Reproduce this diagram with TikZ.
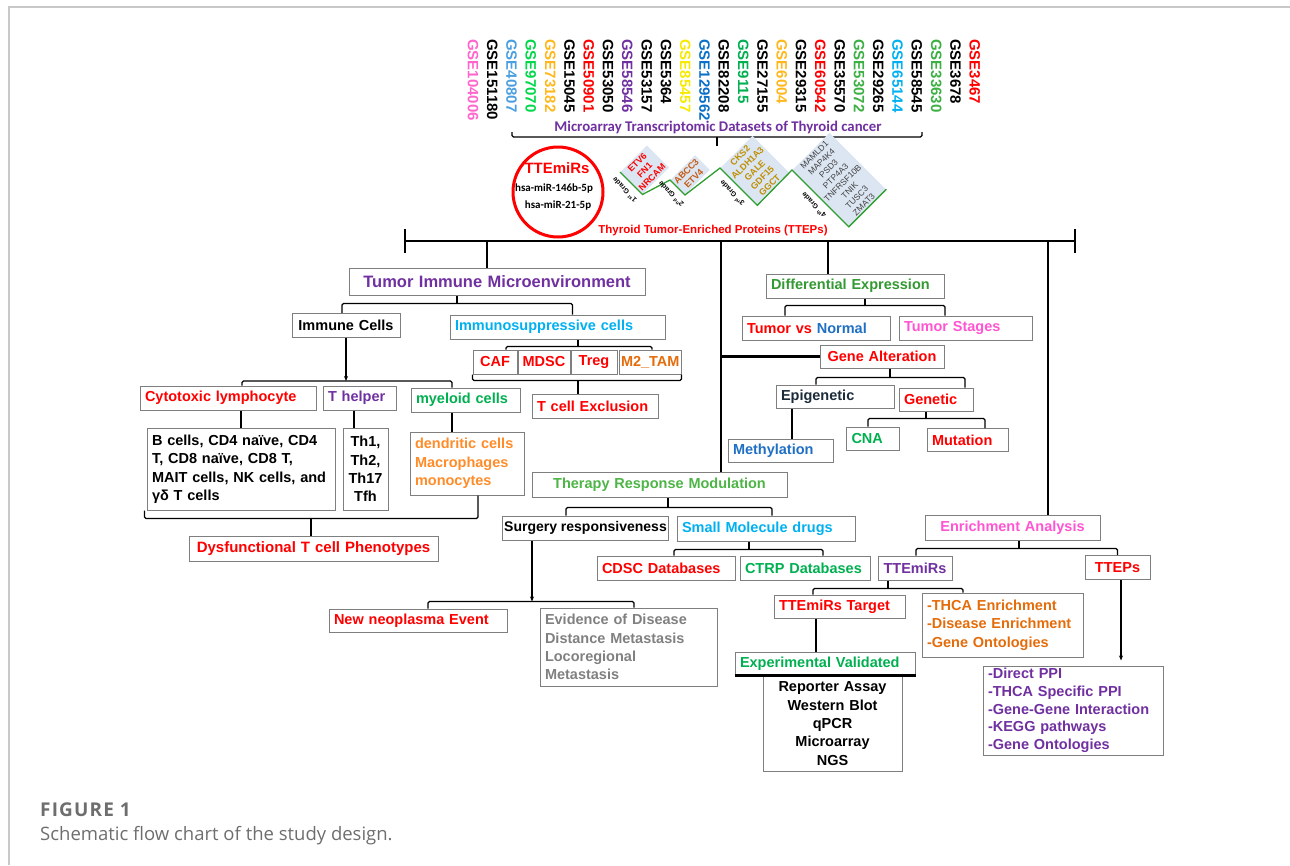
\documentclass[tikz,border=0pt]{standalone}
\usepackage{fontspec}
\setmainfont{Liberation Sans}
\newfontfamily\calibri{Carlito}
\newfontfamily\legende{Open Sans}
\newfontfamily\legendeesp[LetterSpace=6]{Open Sans}
\usetikzlibrary{calc,positioning,arrows.meta}
\definecolor{BordGris}{HTML}{7F7F7F}
\definecolor{CadreGris}{HTML}{C8C8C8}
\definecolor{LegGris}{HTML}{6E6E6E}
\definecolor{TViolet}{HTML}{7030A0}
\definecolor{TCyan}{HTML}{00B0F0}
\definecolor{TRouge}{HTML}{FF0000}
\definecolor{TOrangeFonce}{HTML}{E46C0A}
\definecolor{TOrange}{HTML}{FF8C28}
\definecolor{TVert}{HTML}{00B050}
\definecolor{TVertFonce}{HTML}{339933}
\definecolor{TVertTh}{HTML}{4DB446}
\definecolor{TBleu}{HTML}{1F6FC4}
\definecolor{TRose}{HTML}{FF55D2}
\definecolor{TGris}{HTML}{808080}
\definecolor{TNuit}{HTML}{1C2B3A}
\definecolor{GRose}{HTML}{FF66CC}
\definecolor{GBleu}{HTML}{4A9FE0}
\definecolor{GVertClair}{HTML}{00D84A}
\definecolor{GOr}{HTML}{FFB81C}
\definecolor{GJaune}{HTML}{F5EA00}
\definecolor{GBleuFonce}{HTML}{0A70C8}
\definecolor{GVertMoyen}{HTML}{3CB043}
\definecolor{GradeFond}{HTML}{DCE6F2}
\definecolor{GradeVert}{HTML}{2E9E2E}
\definecolor{GradeA}{HTML}{FF0000}
\definecolor{GradeB}{HTML}{C55A11}
\definecolor{GradeC}{HTML}{BF8F00}
\definecolor{GradeD}{HTML}{404040}
\newcommand{\fs}[2]{\fontsize{#1}{#2}\selectfont}
\tikzset{
	bx/.style={draw=BordGris, line width=1pt, inner xsep=5pt, inner ysep=2pt, minimum height=24pt, font=\fs{14.5}{18.3}\bfseries, align=left},
	bw/.style={text width=#1},
	thk/.style={line width=2.6pt},
	brk/.style={line width=1.1pt, rounded corners=1.5pt},
	gse/.style={rotate=-90, anchor=west, font=\fs{15}{16}\bfseries, inner sep=0pt},
	gradebx/.style={fill=GradeFond, rotate=45, anchor=north west, align=center, inner sep=2pt, font=\fs{9}{10.5}\bfseries},
	gradelab/.style={rotate=135, font=\fs{7}{8}\bfseries, inner sep=0pt}
}
\begin{document}
\begin{tikzpicture}[x=1pt,y=-1pt]
    \useasboundingbox (0,0) rectangle (1290,865);
    % cadre
    \draw[CadreGris, line width=1.2pt] (9,865) -- (9,7) -- (1290,7);

    % jeux de donnees
    \foreach \num/\col [count=\i from 0] in {104006/GRose, 151180/black, 40807/GBleu, 97070/GVertClair, 73182/GOr, 15045/black, 50901/TRouge, 53050/black, 58546/TViolet, 53157/black, 5364/black, 85457/GJaune, 129562/GBleuFonce, 82208/black, 9115/TVert, 27155/black, 6004/GOr, 29315/black, 60542/TRouge, 35570/black, 53072/GVertMoyen, 29265/black, 65144/TCyan, 58545/black, 33630/GVertMoyen, 3678/black, 3467/TRouge} {
        \node[gse, text=\col] (gse\i) at ({473+19.3*\i},39) {GSE\num};
    }
    \node[font=\calibri\fs{14.8}{16}\bfseries, text=TViolet] (microarray) at (718,127) {Microarray Transcriptomic Datasets of Thyroid cancer};
    \coordinate (accG) at (512,137);
    \coordinate (accD) at (922,137);
    \coordinate (accM) at (717,137);
    \draw[brk] ([yshift=5pt]accG) -- (accG) -- (accD) -- ([yshift=5pt]accD);
    \draw[brk] (accM) -- ++(0,9);

    % TTEmiRs
    \node[circle, draw=TRouge, line width=3pt, minimum size=90pt, inner sep=0pt] (cercle) at (558,192) {};
    \node[text=TRouge, font=\fs{15}{16}\bfseries] (miRtitre) at (557,168) {TTEmiRs};
    \node[font=\calibri\fs{11}{12}\bfseries] (miR146) at (554,189) {hsa-miR-146b-5p};
    \node[font=\calibri\fs{11}{12}\bfseries] (miR21) at (558,206) {hsa-miR-21-5p};

    % grades des TTEPs
    \node[gradebx, text=GradeA] (g1) at (620,172) {ETV6\\FN1\\NRCAM};
    \node[gradebx, text=GradeB] (g2) at (670,180) {ABCC3\\ETV4};
    \node[gradebx, text=GradeC] (g3) at (720,168) {CKS2\\ALDH1A3\\GALE\\GDF15\\GGCT};
    \node[gradebx, text=GradeD, font=\fs{8.5}{10}\mdseries] (g4) at (792,170) {MAMLD1\\MAP4K4\\PSD3\\PTP4A3\\TNFRSF10B\\TNIK\\TUSC3\\ZMAT3};
    \draw[GradeVert, line width=1.3pt] (g1.north west) -- (g1.south west) -- (g2.north west) -- (g2.south west) -- (g3.north west) -- (g3.south west) -- (g4.north west) -- (g4.south west) -- (g4.south east);
    \foreach \n/\s in {1/st,2/nd,3/rd,4/th} {
        \node[gradelab] (lab\n) at ($(g\n.west)+(-7,7)$) {\n\textsuperscript{\s} Grade};
    }
    \node[text=TRouge, font=\fs{11.5}{13}\bfseries] (ttepstitre) at (713,231) {Thyroid Tumor-Enriched Proteins (TTEPs)};

    % barre principale
    \coordinate (barG) at (405,241);
    \coordinate (barD) at (1075,241);
    \draw[thk] (barG) -- (barD);
    \draw[thk] ([yshift=12pt]barG) -- ([yshift=-12pt]barG);
    \draw[thk] ([yshift=12pt]barD) -- ([yshift=-12pt]barD);

    % microenvironnement immunitaire
    \node[bx, bw=286, align=center, text=TViolet, font=\fs{16.5}{19}\bfseries, minimum height=27pt] (tim) at (497,281.5) {Tumor Immune Microenvironment};
    \node[bx, bw=98, align=center] (immc) at (346,325.5) {Immune Cells};
    \node[bx, bw=205, text=TCyan] (imsup) at (557.5,327) {Immunosuppressive cells};
    \node[bx, inner xsep=3pt, bw=38, align=center, text=TRouge] (caf) at (495,362) {CAF};
    \node[bx, inner xsep=3pt, bw=46, align=center, text=TRouge] (mdsc) at (544,362) {MDSC};
    \node[bx, inner xsep=3pt, bw=40, align=center, text=TRouge] (treg) at (594,362) {Treg};
    \node[bx, inner xsep=2pt, bw=58, align=center, text=TOrangeFonce] (m2) at (650,362) {M2\_TAM};
    \node[bx, bw=116, text=TRouge] (tcex) at (595,406) {T cell Exclusion};
    \node[bx, bw=166, text=TRouge] (cyto) at (228,398) {Cytotoxic lymphocyte};
    \node[bx, bw=63, text=TViolet] (thelp) at (359.5,398) {T helper};
    \node[bx, bw=99, text=TVert] (myel) at (465.5,400) {myeloid cells};
    \node[bx, bw=178, minimum height=82pt, font=\fs{14.5}{18.5}\bfseries] (bcell) at (241,469) {B cells, CD4 naïve, CD4\\T, CD8 naïve, CD8 T,\\MAIT cells, NK cells, and\\γδ T cells};
    \node[bx, bw=37, inner xsep=4pt, align=center, minimum height=82pt] (th) at (365.5,469) {Th1,\\Th2,\\Th17\\Tfh};
    \node[bx, bw=104, minimum height=63pt, text=TOrange] (dend) at (467,463.5) {dendritic cells\\Macrophages\\monocytes};
    \node[bx, bw=239, align=center, text=TRouge, font=\fs{15}{18}\bfseries, minimum height=25pt] (dys) at (313.5,548.5) {Dysfunctional T cell Phenotypes};

    \coordinate (vTIM) at (487,241);
    \draw[thk] (vTIM) -- (vTIM |- tim.north);
    \coordinate (aTIM) at ($(tim.south)+(-40,8)$);
    \draw[brk] (tim.south -| aTIM) -- (aTIM);
    \draw[brk] ([xshift=-4pt]immc.north) |- (aTIM) -| ([xshift=15pt]imsup.north);
    \coordinate (aSup) at ($(imsup.south)+(20.5,7)$);
    \draw[brk] (imsup.south -| aSup) -- (aSup);
    \draw[brk] ([xshift=11pt]caf.north) |- (aSup) -| ([xshift=2pt]m2.north);
    \coordinate (aExc) at ($(tcex.north)+(-17,-13)$);
    \draw[brk] (caf.south west) |- (aExc) -| (m2.south east);
    \draw[brk] (aExc) -- (aExc |- tcex.north);
    \coordinate (aImm) at ($(immc.south)+(0,43)$);
    \draw[brk, -{Stealth[length=5pt,width=4pt]}] (immc.south) -- (aImm);
    \draw[brk] ([xshift=14pt]cyto.north) |- (aImm) -| ([xshift=-13.5pt]myel.north);
    \draw[thk] (bcell.north) -- (bcell.north |- cyto.south);
    \coordinate (vTh) at ($(thelp.south)+(-5.5,0)$);
    \draw[thk] (vTh) -- (vTh |- th.north);
    \coordinate (vMye) at ($(myel.south)+(-13.5,0)$);
    \draw[thk] (vMye) -- (vMye |- dend.north);
    \coordinate (aDys) at ($(dys.north)+(-2.5,-17)$);
    \draw[brk] ([xshift=-2pt]bcell.south west) |- (aDys) -| ([xshift=11pt]dend.south);
    \draw[brk] (aDys) -- (aDys |- dys.north);

    % expression et alterations
    \node[bx, bw=168, text=TVertFonce] (diffex) at (855,286) {Differential Expression};
    \node[bx, bw=138] (tvn) at (816,328) {\textcolor{TRouge}{Tumor vs} \textcolor{TBleu}{Normal}};
    \node[bx, bw=123, text=TRose] (tstg) at (965.5,328) {Tumor Stages};
    \node[bx, bw=114, align=center, text=TRouge, minimum height=23pt] (genalt) at (882,356.5) {Gene Alteration};
    \node[bx, bw=108, text=TNuit, minimum height=23pt] (epig) at (835,396.5) {Epigenetic};
    \node[bx, bw=64, text=TRouge, minimum height=23pt] (genetic) at (936,399.5) {Genetic};
    \node[bx, bw=95, text=TBleu, minimum height=23pt] (methyl) at (780.5,451) {Methylation};
    \node[bx, bw=43, text=TVert, minimum height=23pt] (cna) at (873,438.5) {CNA};
    \node[bx, bw=71, text=TRouge, minimum height=23pt] (mut) at (967.5,440) {Mutation};

    \coordinate (vDiff) at (828,241);
    \draw[thk] (vDiff) -- (vDiff |- diffex.north);
    \coordinate (aDiff) at ($(diffex.south)+(10,7)$);
    \draw[brk] (diffex.south -| aDiff) -- (aDiff);
    \draw[brk] ([xshift=-31pt]tvn.north) |- (aDiff) -| ([xshift=-20.5pt]tstg.north);
    \coordinate (aGen) at ($(genalt.south)+(8,9)$);
    \draw[brk] (genalt.south -| aGen) -- (aGen);
    \draw[brk] ([xshift=-19pt]epig.north) |- (aGen) -| ([xshift=29pt]genetic.north);
    \coordinate (vEpi) at ($(epig.south)+(-43,0)$);
    \draw[thk] (vEpi) -- (vEpi |- methyl.north);
    \coordinate (aGenet) at ($(genetic.south)+(-10,7)$);
    \draw[brk] (genetic.south -| aGenet) -- (aGenet);
    \draw[brk] ([xshift=-5pt]cna.north) |- (aGenet) -| ([xshift=17.5pt]mut.north);

    % reponse therapeutique
    \node[bx, bw=245, align=center, text=TVertTh, minimum height=25pt] (therapy) at (659.5,484.5) {Therapy Response Modulation};
    \node[bx, inner xsep=2pt, minimum width=165pt, align=center, font=\fs{14}{17}\bfseries] (surg) at (585.5,528) {Surgery responsiveness};
    \node[bx, bw=168, text=TCyan, minimum height=25pt] (smol) at (766,528.5) {Small Molecule drugs};
    \node[bx, bw=128, text=TRouge] (cdsc) at (666,568) {CDSC Databases};
    \node[bx, bw=120, text=TVert] (ctrp) at (805,568) {CTRP Databases};
    \node[bx, bw=168, text=TRouge, minimum height=23pt] (neo) at (418,620.5) {New neoplasma Event};
    \node[bx, bw=167, text=TGris, minimum height=78pt] (evid) at (628.5,647) {Evidence of Disease\\Distance Metastasis\\Locoregional\\Metastasis};

    \coordinate (vCentre) at (721,241);
    \draw[thk] (vCentre) -- (vCentre |- therapy.north);
    \draw[thk] (vCentre |- genalt.west) -- (genalt.west);
    \coordinate (aTher) at ($(therapy.south)+(8.5,10)$);
    \draw[brk] (therapy.south -| aTher) -- (aTher);
    \draw[brk] ([xshift=-19.5pt]surg.north) |- (aTher) -| ([xshift=6pt]smol.north);
    \coordinate (aMol) at ($(smol.south)+(-17,8)$);
    \draw[brk] (smol.south -| aMol) -- (aMol);
    \draw[brk] ([xshift=8pt]cdsc.north) |- (aMol) -| ([xshift=18pt]ctrp.north);
    \coordinate (aSurg) at ($(surg.south)+(-53.5,61)$);
    \draw[brk, -{Stealth[length=5pt,width=4pt]}] (surg.south -| aSurg) -- (aSurg);
    \draw[brk] ([xshift=10pt]neo.north) |- (aSurg) -| ([xshift=5.5pt]evid.north);

    % enrichissement
    \node[bx, bw=165, align=center, text=TRose, minimum height=25pt] (enr) at (1012.5,527.5) {Enrichment Analysis};
    \node[bx, bw=64, align=center, text=TViolet] (ttemirs) at (915,568) {TTEmiRs};
    \node[bx, bw=55, align=center, text=TRouge] (tteps) at (1117.5,567.5) {TTEPs};
    \node[bx, bw=121, text=TRouge, minimum height=23pt] (target) at (839.5,606.5) {TTEmiRs Target};
    \node[bx, bw=151, text=TOrangeFonce, minimum height=64pt] (thca) at (1002.5,625) {-THCA Enrichment\\-Disease Enrichment\\-Gene Ontologies};
    \node[bx, bw=170, text=TVert, minimum height=23pt] (expv) at (825,663.5) {Experimental Validated};
    \node[bx, bw=129, align=center, minimum height=96pt] (rep) at (832.5,723.5) {Reporter Assay\\Western Blot\\qPCR\\Microarray\\NGS};
    \node[bx, bw=170, text=TViolet, minimum height=89pt, font=\fs{14.5}{17.7}\bfseries] (ppi) at (1073,710.5) {-Direct PPI\\-THCA Specific PPI\\-Gene-Gene Interaction\\-KEGG pathways\\-Gene Ontologies};

    \coordinate (vEnr) at (1048,241);
    \draw[thk] (vEnr) -- (vEnr |- enr.north);
    \coordinate (aEnr) at ($(enr.south)+(6.5,8)$);
    \draw[brk] (enr.south -| aEnr) -- (aEnr);
    \draw[brk] ([xshift=1pt]ttemirs.north) |- (aEnr) -| (tteps.north);
    \coordinate (aMir) at ($(ttemirs.south)+(-27,8)$);
    \draw[brk] (ttemirs.south -| aMir) -- (aMir);
    \draw[brk] ([xshift=-26.5pt]target.north) |- (aMir) -| ([xshift=-39.5pt]thca.north);
    \coordinate (vCib) at ($(target.south)+(-23.5,0)$);
    \draw[thk] (vCib) -- (vCib |- expv.north);
    \draw[thk] (expv.south west) -- (expv.south east);
    \coordinate (vTep) at ($(tteps.south)+(3.5,0)$);
    \draw[brk, -{Stealth[length=5pt,width=4pt]}, shorten >=5pt] (vTep) -- (vTep |- ppi.north);

    % legende
    \node[anchor=west, inner sep=0pt, text=LegGris, font=\legendeesp\fs{19}{21}\bfseries] (figure) at (40,810) {FIGURE 1};
    \node[anchor=west, inner sep=0pt, text=LegGris, font=\legende\fs{18.5}{21}] (legende) at (40,836) {Schematic flow chart of the study design.};
\end{tikzpicture}
\end{document}
